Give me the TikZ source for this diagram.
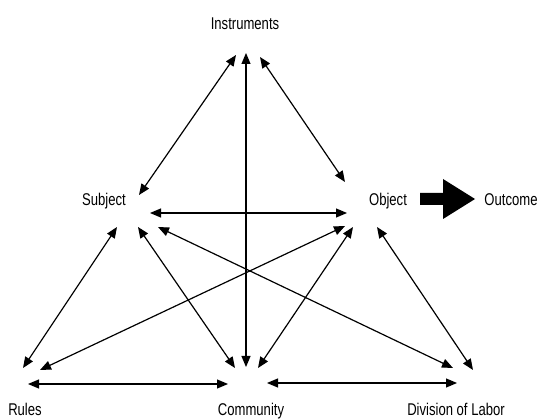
\documentclass[tikz,border=0pt]{standalone}
\usepackage{fontspec}
\setmainfont{Liberation Sans}[FakeStretch=0.77]
\usetikzlibrary{arrows.meta}
\begin{document}
\begin{tikzpicture}[x=1pt,y=-1pt,
  lbl/.style={inner sep=0pt,anchor=base,font=\fontsize{17}{20}\selectfont},
  link/.style={line width=1.2pt,{Triangle[length=11pt,width=9pt]}-{Triangle[length=11pt,width=9pt]}}]
\useasboundingbox (0,0) rectangle (538,419);
\node[lbl] (ins) at (245,30) {Instruments};
\node[lbl] (sub) at (104,206) {Subject};
\node[lbl] (obj) at (388,206) {Object};
\node[lbl] (out) at (511,206) {Outcome};
\node[lbl] (rul) at (25,415) {Rules};
\node[lbl] (com) at (251,415) {Community};
\node[lbl] (div) at (456,415) {Division of Labor};
% connectors
\draw[link] ([shift={(-9,25)}]ins.base) -- ([shift={(35,-11)}]sub.base);
\draw[link] ([shift={(1,23)}]ins.base) -- ([shift={(-5,-48)}]com.base);
\draw[link] ([shift={(15,27)}]ins.base) -- ([shift={(-43,-24)}]obj.base);
\draw[link] ([shift={(46,7)}]sub.base) -- ([shift={(-41,7)}]obj.base);
\draw[link] ([shift={(13,21)}]sub.base) -- ([shift={(-2,-47)}]rul.base);
\draw[link] ([shift={(34,21)}]sub.base) -- ([shift={(-16,-47)}]com.base);
\draw[link] ([shift={(54,21)}]sub.base) -- ([shift={(-3,-47)}]div.base);
\draw[link] ([shift={(-43,20)}]obj.base) -- ([shift={(15,-45)}]rul.base);
\draw[link] ([shift={(-35,21)}]obj.base) -- ([shift={(7,-47)}]com.base);
\draw[link] ([shift={(-11,21)}]obj.base) -- ([shift={(17,-45)}]div.base);
\draw[link] ([shift={(3,-31)}]rul.base) -- ([shift={(-23,-31)}]com.base);
\draw[link] ([shift={(16,-32)}]com.base) -- ([shift={(1,-32)}]div.base);
% block arrow Object -> Outcome
\fill ([shift={(32,-13)}]obj.base) -- ([shift={(55,-13)}]obj.base) -- ([shift={(55,-27)}]obj.base)
  -- ([shift={(87,-7)}]obj.base) -- ([shift={(55,13)}]obj.base) -- ([shift={(55,-1)}]obj.base)
  -- ([shift={(32,-1)}]obj.base) -- cycle;
\end{tikzpicture}
\end{document}
